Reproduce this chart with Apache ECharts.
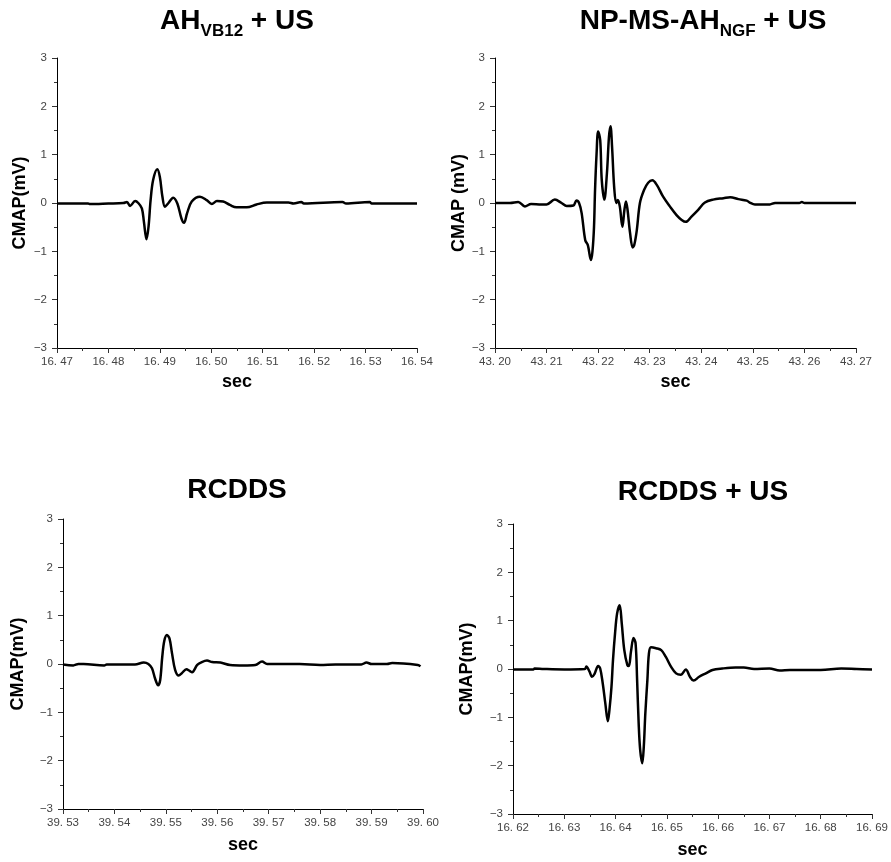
<!DOCTYPE html>
<html>
<head>
<meta charset="utf-8">
<script src="https://cdn.jsdelivr.net/npm/echarts@6/dist/echarts.min.js"></script>
<style>
html,body{margin:0;padding:0;background:#fff;}
#c{width:891px;height:862px;}
</style>
</head>
<body>
<div id="c"></div>
<script>
// Panel titles and axis names
const titles = ['{a|AH}{b|VB12}{a| + US}', '{a|NP-MS-AH}{b|NGF}{a| + US}', '{a|RCDDS}', '{a|RCDDS + US}'];
const yNames = ['CMAP(mV)', 'CMAP (mV)', 'CMAP(mV)', 'CMAP(mV)'];
const xName = 'sec';
const xMins = [16.47, 43.20, 39.53, 16.62];
const xMaxs = [16.54, 43.27, 39.60, 16.69];
const yTicks = [-3, -2, -1, 0, 1, 2, 3];

// Panel 1: AH_VB12 + US
const t1 = [16.4700, 16.4760, 16.4763, 16.4800, 16.4829, 16.4836, 16.4842, 16.4852, 16.4858, 16.4865, 16.4869, 16.4874, 16.4878, 16.4882, 16.4887, 16.4895, 16.4900, 16.4905, 16.4910, 16.4916, 16.4926, 16.4934, 16.4942, 16.4947, 16.4953, 16.4962, 16.4978, 16.4991, 16.5001, 16.5011, 16.5023, 16.5036, 16.5049, 16.5069, 16.5088, 16.5108, 16.5150, 16.5160, 16.5175, 16.5180, 16.5255, 16.5262, 16.5308, 16.5312, 16.5400];
const v1 = [-0.01, -0.01, -0.02, -0.01, 0.0, 0.02, -0.06, 0.04, 0.0, -0.11, -0.39, -0.75, -0.49, 0.06, 0.48, 0.70, 0.54, 0.13, -0.08, -0.01, 0.11, -0.01, -0.32, -0.41, -0.21, 0.03, 0.13, 0.06, -0.02, 0.04, 0.03, -0.04, -0.09, -0.09, -0.03, 0.01, 0.01, -0.01, 0.02, -0.01, 0.02, -0.01, 0.02, -0.01, -0.01];

// Panel 2: NP-MS-AH_NGF + US
const t2 = [43.2000, 43.2029, 43.2045, 43.2058, 43.2070, 43.2090, 43.2100, 43.2116, 43.2129, 43.2139, 43.2152, 43.2158, 43.2163, 43.2168, 43.2175, 43.2180, 43.2186, 43.2189, 43.2192, 43.2194, 43.2197, 43.2200, 43.2204, 43.2207, 43.2212, 43.2217, 43.2221, 43.2224, 43.2227, 43.2231, 43.2235, 43.2238, 43.2242, 43.2247, 43.2251, 43.2254, 43.2257, 43.2262, 43.2267, 43.2270, 43.2275, 43.2281, 43.2289, 43.2297, 43.2305, 43.2314, 43.2326, 43.2339, 43.2352, 43.2362, 43.2370, 43.2381, 43.2394, 43.2407, 43.2423, 43.2443, 43.2456, 43.2472, 43.2488, 43.2494, 43.2504, 43.2533, 43.2543, 43.2590, 43.2595, 43.2600, 43.2700];
const v2 = [0.0, 0.0, 0.02, -0.07, -0.02, -0.03, -0.03, 0.07, 0.0, -0.06, -0.05, 0.05, 0.0, -0.21, -0.77, -0.87, -1.18, -1.0, -0.49, 0.27, 1.03, 1.48, 1.30, 0.48, 0.07, 0.61, 1.37, 1.59, 1.16, 0.34, 0.0, 0.06, -0.07, -0.49, -0.14, 0.03, -0.14, -0.63, -0.92, -0.87, -0.56, 0.0, 0.27, 0.42, 0.47, 0.37, 0.13, -0.07, -0.25, -0.35, -0.39, -0.28, -0.14, 0.01, 0.07, 0.10, 0.12, 0.08, 0.05, 0.01, -0.03, -0.03, 0.0, 0.0, 0.02, 0.0, 0.0];

// Panel 3: RCDDS
const t3 = [39.5300, 39.5320, 39.5330, 39.5340, 39.5380, 39.5385, 39.5400, 39.5440, 39.5457, 39.5466, 39.5473, 39.5479, 39.5485, 39.5489, 39.5493, 39.5497, 39.5502, 39.5507, 39.5512, 39.5518, 39.5525, 39.5531, 39.5540, 39.5546, 39.5551, 39.5561, 39.5570, 39.5580, 39.5590, 39.5606, 39.5625, 39.5651, 39.5674, 39.5687, 39.5697, 39.5760, 39.5800, 39.5830, 39.5880, 39.5890, 39.5900, 39.5930, 39.5940, 39.5990, 39.5995];
const v3 = [-0.01, -0.03, 0.0, 0.0, -0.03, -0.01, -0.01, -0.01, 0.03, 0.0, -0.09, -0.30, -0.44, -0.33, 0.15, 0.48, 0.60, 0.53, 0.22, -0.12, -0.24, -0.19, -0.11, -0.14, -0.17, -0.02, 0.04, 0.07, 0.04, 0.03, -0.02, -0.03, -0.02, 0.05, 0.0, 0.0, -0.02, -0.01, -0.01, 0.03, 0.0, 0.0, 0.02, -0.02, -0.05];

// Panel 4: RCDDS + US
const t4 = [16.6200, 16.6240, 16.6242, 16.6260, 16.6300, 16.6340, 16.6343, 16.6349, 16.6354, 16.6359, 16.6366, 16.6370, 16.6375, 16.6380, 16.6385, 16.6388, 16.6392, 16.6395, 16.6399, 16.6403, 16.6408, 16.6412, 16.6417, 16.6423, 16.6426, 16.6430, 16.6435, 16.6439, 16.6442, 16.6445, 16.6448, 16.6452, 16.6455, 16.6458, 16.6462, 16.6465, 16.6469, 16.6479, 16.6489, 16.6498, 16.6508, 16.6518, 16.6527, 16.6537, 16.6545, 16.6552, 16.6563, 16.6576, 16.6589, 16.6608, 16.6634, 16.6650, 16.6670, 16.6700, 16.6720, 16.6740, 16.6770, 16.6800, 16.6840, 16.6870, 16.6900];
const v4 = [-0.01, -0.01, 0.01, 0.0, -0.01, 0.0, 0.05, -0.05, -0.16, -0.10, 0.06, 0.01, -0.30, -0.71, -1.08, -0.85, -0.37, 0.19, 0.74, 1.15, 1.32, 0.95, 0.39, 0.08, 0.06, 0.36, 0.64, 0.53, -0.23, -1.12, -1.68, -1.95, -1.61, -0.92, -0.23, 0.32, 0.45, 0.43, 0.39, 0.25, 0.05, -0.09, -0.12, -0.01, -0.16, -0.24, -0.16, -0.09, -0.02, 0.01, 0.03, 0.03, 0.0, 0.01, -0.03, -0.02, -0.02, -0.02, 0.01, 0.0, -0.01];

const times = [t1, t2, t3, t4];
const vals = [v1, v2, v3, v4];

// Layout
const grids = [
  {left: 57, top: 58, width: 360, height: 290},
  {left: 495, top: 58, width: 361, height: 290},
  {left: 63, top: 519, width: 360, height: 290},
  {left: 513, top: 524, width: 361, height: 290}
];
const titlePos = [[237, 22], [703, 22], [237, 491], [703, 493]];
const yNameGaps = [28, 21, 36, 37];
const xNameGaps = [25, 25, 27, 27];

const FONT = 'Liberation Sans, Arial, sans-serif';
const TICKFONT = 'Liberation Sans, Arial, sans-serif';

const chart = echarts.init(document.getElementById('c'), null, {renderer: 'canvas'});

const option = {
  animation: false,
  backgroundColor: '#fff',
  grid: grids.map(g => Object.assign({containLabel: false}, g)),
  xAxis: grids.map((g, i) => ({
    type: 'value', gridIndex: i, min: xMins[i], max: xMaxs[i], interval: 0.01,
    name: xName, nameLocation: 'middle', nameGap: xNameGaps[i],
    nameTextStyle: {fontFamily: FONT, fontWeight: 'bold', fontSize: 18, color: '#000'},
    axisLine: {show: true, onZero: false, lineStyle: {color: '#000', width: 1}},
    axisTick: {show: true, inside: false, length: 5, lineStyle: {color: '#333'}},
    minorTick: {show: true, splitNumber: 2, length: 3, lineStyle: {color: '#333'}},
    splitLine: {show: false},
    axisLabel: {
      margin: 8, fontFamily: TICKFONT, fontSize: 11.5, color: '#444',
      showMinLabel: true, showMaxLabel: true,
      formatter: v => v.toFixed(2).replace('.', '. ')
    }
  })),
  yAxis: grids.map((g, i) => ({
    type: 'value', gridIndex: i, min: yTicks[0], max: yTicks[yTicks.length - 1], interval: 1,
    name: yNames[i], nameLocation: 'middle', nameGap: yNameGaps[i],
    nameTextStyle: {fontFamily: FONT, fontWeight: 'bold', fontSize: 18, color: '#000'},
    axisLine: {show: true, onZero: false, lineStyle: {color: '#000', width: 1}},
    axisTick: {show: true, inside: false, length: 5, lineStyle: {color: '#333'}},
    minorTick: {show: true, splitNumber: 2, length: 3, lineStyle: {color: '#333'}},
    splitLine: {show: false},
    axisLabel: {
      margin: 10, fontFamily: TICKFONT, fontSize: 11.5, color: '#444',
      formatter: v => String(v).replace('-', '\u2212')
    }
  })),
  series: times.map((t, i) => ({
    type: 'line', xAxisIndex: i, yAxisIndex: i,
    data: t.map((x, k) => [x, vals[i][k]]),
    showSymbol: false, symbol: 'none', smooth: 0.35,
    lineStyle: {color: '#000', width: 2.5}
  })),
  graphic: titles.map((txt, i) => ({
    type: 'text', x: titlePos[i][0], y: titlePos[i][1],
    style: {
      text: txt, align: 'center', verticalAlign: 'middle',
      rich: {
        a: {fontFamily: FONT, fontWeight: 'bold', fontSize: 28, lineHeight: 30, color: '#000', verticalAlign: 'top'},
        b: {fontFamily: FONT, fontWeight: 'bold', fontSize: 17, lineHeight: 17, color: '#000', verticalAlign: 'top', padding: [16, 0, 0, 0]}
      }
    }
  }))
};
chart.setOption(option);
</script>
</body>
</html>
